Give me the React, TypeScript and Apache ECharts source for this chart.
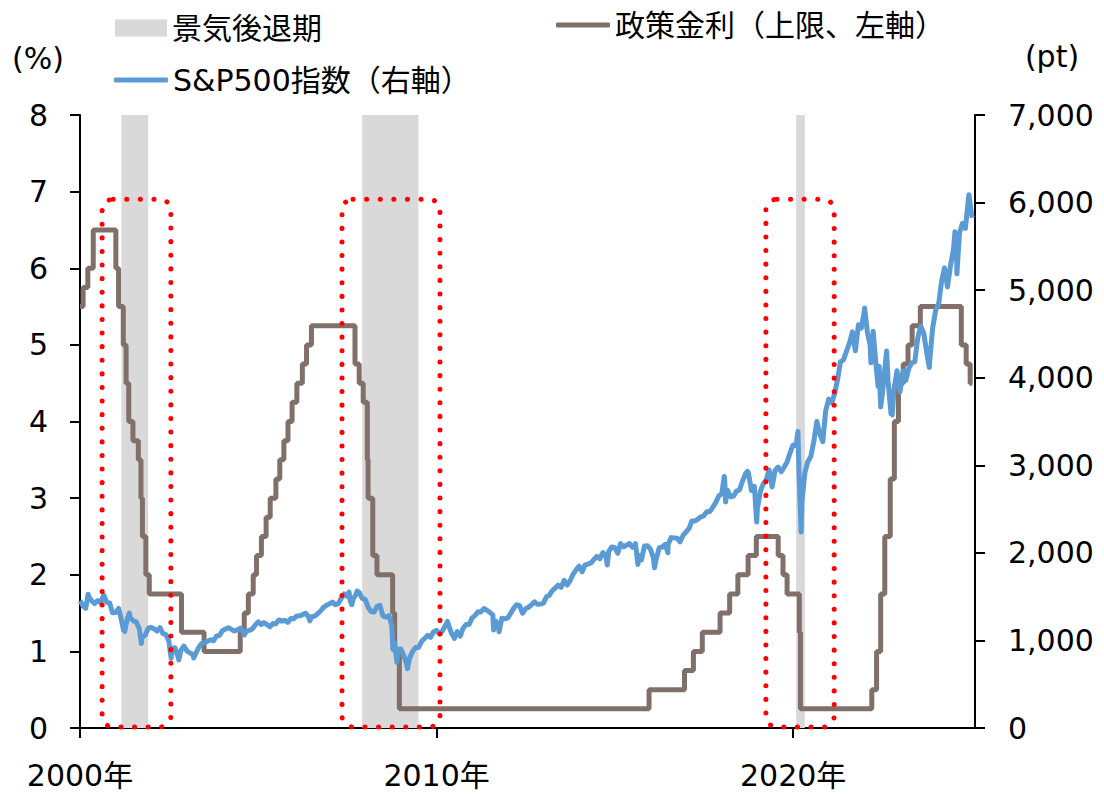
import React, { useEffect, useRef } from "react";
import * as echarts from "echarts";

const FONT = '"DejaVu Sans", "Noto Sans CJK JP", sans-serif';

// Policy rate (upper limit), change dates and new level (%)
const fedRate: [string, number][] = [
  ["2000-01-01", 5.5], ["2000-02-02", 5.75], ["2000-03-21", 6.0], ["2000-05-16", 6.5],
  ["2001-01-03", 6.0], ["2001-01-31", 5.5], ["2001-03-20", 5.0], ["2001-04-18", 4.5],
  ["2001-05-15", 4.0], ["2001-06-27", 3.75], ["2001-08-21", 3.5], ["2001-09-17", 3.0],
  ["2001-10-02", 2.5], ["2001-11-06", 2.0], ["2001-12-11", 1.75], ["2002-11-06", 1.25],
  ["2003-06-25", 1.0], ["2004-06-30", 1.25], ["2004-08-10", 1.5], ["2004-09-21", 1.75],
  ["2004-11-10", 2.0], ["2004-12-14", 2.25], ["2005-02-02", 2.5], ["2005-03-22", 2.75],
  ["2005-05-03", 3.0], ["2005-06-30", 3.25], ["2005-08-09", 3.5], ["2005-09-20", 3.75],
  ["2005-11-01", 4.0], ["2005-12-13", 4.25], ["2006-01-31", 4.5], ["2006-03-28", 4.75],
  ["2006-05-10", 5.0], ["2006-06-29", 5.25], ["2007-09-18", 4.75], ["2007-10-31", 4.5],
  ["2007-12-11", 4.25], ["2008-01-22", 3.5], ["2008-01-30", 3.0], ["2008-03-18", 2.25],
  ["2008-04-30", 2.0], ["2008-10-08", 1.5], ["2008-10-29", 1.0], ["2008-12-16", 0.25],
  ["2015-12-17", 0.5], ["2016-12-15", 0.75], ["2017-03-16", 1.0], ["2017-06-15", 1.25],
  ["2017-12-14", 1.5], ["2018-03-22", 1.75], ["2018-06-14", 2.0], ["2018-09-27", 2.25],
  ["2018-12-20", 2.5], ["2019-08-01", 2.25], ["2019-09-19", 2.0], ["2019-10-31", 1.75],
  ["2020-03-04", 1.25], ["2020-03-16", 0.25], ["2022-03-17", 0.5], ["2022-05-05", 1.0],
  ["2022-06-16", 1.75], ["2022-07-28", 2.5], ["2022-09-22", 3.25], ["2022-11-03", 4.0],
  ["2022-12-15", 4.5], ["2023-02-02", 4.75], ["2023-03-23", 5.0], ["2023-05-04", 5.25],
  ["2023-07-27", 5.5], ["2024-09-19", 5.0], ["2024-11-08", 4.75], ["2024-12-19", 4.5],
  ["2025-01-10", 4.5],
];

// S&P500 index (pt): month-end closes ("YYYY-MM") plus notable daily levels
const sp500: [string, number][] = [
  ["2000-01-03", 1455], ["2000-01", 1394], ["2000-02", 1366], ["2000-03-24", 1527], ["2000-03", 1499],
  ["2000-04", 1452], ["2000-05", 1421], ["2000-06", 1455], ["2000-07", 1431], ["2000-08", 1518],
  ["2000-09-01", 1521], ["2000-09", 1437], ["2000-10", 1429], ["2000-11", 1315], ["2000-12", 1320],
  ["2001-01", 1366], ["2001-02", 1240], ["2001-03-22", 1118], ["2001-03", 1160], ["2001-04-04", 1103],
  ["2001-04", 1249], ["2001-05-21", 1313], ["2001-05", 1256], ["2001-06", 1224], ["2001-07", 1211],
  ["2001-08", 1134], ["2001-09-21", 966], ["2001-09", 1041], ["2001-10", 1060], ["2001-11", 1139],
  ["2001-12", 1148], ["2002-01", 1130], ["2002-02", 1107], ["2002-03", 1147], ["2002-04", 1077],
  ["2002-05", 1067], ["2002-06", 990], ["2002-07-23", 797], ["2002-07", 912], ["2002-08", 916],
  ["2002-09", 815], ["2002-10-09", 777], ["2002-10", 886], ["2002-11", 936], ["2002-12", 880],
  ["2003-01", 856], ["2003-02", 841], ["2003-03-11", 800], ["2003-03", 848], ["2003-04", 917],
  ["2003-05", 964], ["2003-06", 975], ["2003-07", 990], ["2003-08", 1008], ["2003-09", 996],
  ["2003-10", 1051], ["2003-11", 1058], ["2003-12", 1112], ["2004-01", 1131], ["2004-02", 1145],
  ["2004-03", 1126], ["2004-04", 1107], ["2004-05", 1121], ["2004-06", 1141], ["2004-07", 1102],
  ["2004-08-12", 1064], ["2004-08", 1104], ["2004-09", 1115], ["2004-10", 1130], ["2004-11", 1174],
  ["2004-12", 1212], ["2005-01", 1181], ["2005-02", 1204], ["2005-03", 1181], ["2005-04", 1157],
  ["2005-05", 1192], ["2005-06", 1191], ["2005-07", 1234], ["2005-08", 1220], ["2005-09", 1229],
  ["2005-10", 1207], ["2005-11", 1249], ["2005-12", 1248], ["2006-01", 1280], ["2006-02", 1281],
  ["2006-03", 1295], ["2006-04", 1311], ["2006-05", 1270], ["2006-06-13", 1223], ["2006-06", 1270],
  ["2006-07", 1277], ["2006-08", 1304], ["2006-09", 1336], ["2006-10", 1378], ["2006-11", 1401],
  ["2006-12", 1418], ["2007-01", 1438], ["2007-02", 1407], ["2007-03", 1421], ["2007-04", 1482],
  ["2007-05", 1531], ["2007-06", 1503], ["2007-07-19", 1553], ["2007-07", 1455], ["2007-08-15", 1407],
  ["2007-08", 1474], ["2007-09", 1527], ["2007-10-09", 1565], ["2007-10", 1549], ["2007-11", 1481],
  ["2007-12", 1468], ["2008-01", 1379], ["2008-02", 1331], ["2008-03", 1323], ["2008-04", 1386],
  ["2008-05", 1400], ["2008-06", 1280], ["2008-07", 1267], ["2008-08", 1283], ["2008-09", 1166],
  ["2008-10-10", 899], ["2008-10", 969], ["2008-11-20", 752], ["2008-11", 896], ["2008-12", 903],
  ["2009-01", 826], ["2009-02", 735], ["2009-03-09", 677], ["2009-03", 798], ["2009-04", 873],
  ["2009-05", 919], ["2009-06", 919], ["2009-07", 987], ["2009-08", 1021], ["2009-09", 1057],
  ["2009-10", 1036], ["2009-11", 1096], ["2009-12", 1115], ["2010-01", 1074], ["2010-02", 1104],
  ["2010-03", 1169], ["2010-04-23", 1217], ["2010-04", 1187], ["2010-05", 1089], ["2010-06", 1031],
  ["2010-07-02", 1022], ["2010-07", 1102], ["2010-08", 1049], ["2010-09", 1141], ["2010-10", 1183],
  ["2010-11", 1181], ["2010-12", 1258], ["2011-01", 1286], ["2011-02", 1327], ["2011-03", 1326],
  ["2011-04", 1364], ["2011-05", 1345], ["2011-06", 1321], ["2011-07", 1292], ["2011-08-08", 1119],
  ["2011-08", 1219], ["2011-09", 1131], ["2011-10-03", 1099], ["2011-10", 1253], ["2011-11", 1247],
  ["2011-12", 1258], ["2012-01", 1312], ["2012-02", 1366], ["2012-03", 1408], ["2012-04", 1398],
  ["2012-05", 1310], ["2012-06", 1362], ["2012-07", 1379], ["2012-08", 1407], ["2012-09", 1441],
  ["2012-10", 1412], ["2012-11", 1416], ["2012-12", 1426], ["2013-01", 1498], ["2013-02", 1515],
  ["2013-03", 1569], ["2013-04", 1598], ["2013-05", 1631], ["2013-06", 1606], ["2013-07", 1686],
  ["2013-08", 1633], ["2013-09", 1682], ["2013-10", 1757], ["2013-11", 1806], ["2013-12", 1848],
  ["2014-01", 1783], ["2014-02", 1859], ["2014-03", 1872], ["2014-04", 1884], ["2014-05", 1924],
  ["2014-06", 1960], ["2014-07", 1931], ["2014-08", 2003], ["2014-09", 1972], ["2014-10-15", 1862],
  ["2014-10", 2018], ["2014-11", 2068], ["2014-12", 2059], ["2015-01", 1995], ["2015-02", 2105],
  ["2015-03", 2068], ["2015-04", 2086], ["2015-05", 2107], ["2015-06", 2063], ["2015-07", 2104],
  ["2015-08-25", 1868], ["2015-08", 1972], ["2015-09", 1920], ["2015-10", 2079], ["2015-11", 2080],
  ["2015-12", 2044], ["2016-01", 1940], ["2016-02-11", 1829], ["2016-02", 1932], ["2016-03", 2060],
  ["2016-04", 2065], ["2016-05", 2097], ["2016-06-27", 2001], ["2016-06", 2099], ["2016-07", 2174],
  ["2016-08", 2171], ["2016-09", 2168], ["2016-10", 2126], ["2016-11", 2199], ["2016-12", 2239],
  ["2017-01", 2279], ["2017-02", 2364], ["2017-03", 2363], ["2017-04", 2384], ["2017-05", 2412],
  ["2017-06", 2423], ["2017-07", 2470], ["2017-08", 2472], ["2017-09", 2519], ["2017-10", 2575],
  ["2017-11", 2648], ["2017-12", 2674], ["2018-01-26", 2873], ["2018-01", 2824], ["2018-02-08", 2581],
  ["2018-02", 2714], ["2018-03", 2641], ["2018-04", 2648], ["2018-05", 2705], ["2018-06", 2718],
  ["2018-07", 2816], ["2018-08", 2902], ["2018-09-20", 2931], ["2018-09", 2914], ["2018-10", 2712],
  ["2018-11", 2760], ["2018-12-24", 2351], ["2018-12", 2507], ["2019-01", 2704], ["2019-02", 2784],
  ["2019-03", 2834], ["2019-04", 2946], ["2019-05", 2752], ["2019-06", 2942], ["2019-07", 2980],
  ["2019-08", 2926], ["2019-09", 2977], ["2019-10", 3038], ["2019-11", 3141], ["2019-12", 3231],
  ["2020-01", 3226], ["2020-02-19", 3386], ["2020-02", 2954], ["2020-03-23", 2237], ["2020-03", 2585],
  ["2020-04", 2912], ["2020-05", 3044], ["2020-06", 3100], ["2020-07", 3271], ["2020-08", 3500],
  ["2020-09", 3363], ["2020-10", 3270], ["2020-11", 3622], ["2020-12", 3756], ["2021-01", 3714],
  ["2021-02", 3811], ["2021-03", 3973], ["2021-04", 4181], ["2021-05", 4204], ["2021-06", 4298],
  ["2021-07", 4395], ["2021-08", 4523], ["2021-09", 4308], ["2021-10", 4605], ["2021-11", 4567],
  ["2021-12", 4766], ["2022-01-03", 4797], ["2022-01", 4516], ["2022-02", 4374], ["2022-03-08", 4170],
  ["2022-03", 4530], ["2022-04", 4132], ["2022-05-20", 3901], ["2022-05", 4132], ["2022-06-16", 3667],
  ["2022-06", 3785], ["2022-07", 4130], ["2022-08-16", 4305], ["2022-08", 3955], ["2022-09", 3586],
  ["2022-10-12", 3577], ["2022-10", 3872], ["2022-11", 4080], ["2022-12", 3840], ["2023-01", 4077],
  ["2023-02", 3970], ["2023-03", 4109], ["2023-04", 4169], ["2023-05", 4180], ["2023-06", 4450],
  ["2023-07", 4589], ["2023-08", 4508], ["2023-09", 4288], ["2023-10-27", 4117], ["2023-10", 4194],
  ["2023-11", 4568], ["2023-12", 4770], ["2024-01", 4846], ["2024-02", 5096], ["2024-03", 5254],
  ["2024-04", 5036], ["2024-05", 5278], ["2024-06", 5460], ["2024-07-16", 5667], ["2024-07", 5522],
  ["2024-08-05", 5186], ["2024-08", 5648], ["2024-09", 5762], ["2024-10", 5705], ["2024-11", 6032],
  ["2024-12-06", 6090], ["2024-12", 5882], ["2025-01-10", 5827],
];

// Recession periods
const recessions: [string, string][] = [
  ["2001-03-01", "2001-11-30"],
  ["2007-12-01", "2009-06-30"],
  ["2020-02-01", "2020-04-30"],
];

// Highlighted periods (red dotted frames), and their top level on the left axis
const highlights: [string, string][] = [
  ["2000-08-15", "2002-07-20"],
  ["2007-05-08", "2010-02-05"],
  ["2019-03-28", "2021-02-25"],
];
const highlightTop = 6.9;

const xTickYears = [2000, 2010, 2020];
const xMin = 2000;
const xMax = 2025.1;

function toYear(s: string): number {
  const p = s.split("-").map(Number);
  const y = p[0];
  const t = p.length === 2 ? Date.UTC(y, p[1], 0) : Date.UTC(y, p[1] - 1, p[2]);
  const a = Date.UTC(y, 0, 1);
  const b = Date.UTC(y + 1, 0, 1);
  return y + (t - a) / (b - a);
}

export default function App() {
  const ref = useRef<HTMLDivElement>(null);
  useEffect(() => {
    if (!ref.current) return;
    const chart = echarts.init(ref.current, undefined, { renderer: "svg" });
    const textStyle = { fontFamily: FONT, fontSize: 30, color: "#000" };
    const axisLine = { show: true, lineStyle: { color: "#000", width: 2 } };
    const axisTick = { show: true, inside: false, length: 10, lineStyle: { color: "#000", width: 2 } };

    const baseTexts: any[] = [
      { type: "text", id: "unitL", x: 38, y: 58, style: { text: "(%)", font: `30px ${FONT}`, fill: "#000", align: "center", verticalAlign: "middle" } },
      { type: "text", id: "unitR", x: 1052, y: 56, style: { text: "(pt)", font: `30px ${FONT}`, fill: "#000", align: "center", verticalAlign: "middle" } },
    ];

    const option: any = {
      animation: false,
      textStyle: { fontFamily: FONT },
      grid: { left: 80, right: 129, top: 115, bottom: 66, containLabel: false },
      legend: [
        {
          data: [{ name: "景気後退期", icon: "rect" }],
          left: 115, top: 13, padding: 0, itemWidth: 52, itemHeight: 17,
          textStyle, selectedMode: false,
        },
        {
          data: [{ name: "政策金利（上限、左軸）", icon: "roundRect" }],
          left: 556, top: 10, padding: 0, itemWidth: 54, itemHeight: 5,
          textStyle, selectedMode: false,
        },
        {
          data: [{ name: "S&P500指数（右軸）", icon: "roundRect" }],
          left: 114, top: 65, padding: 0, itemWidth: 54, itemHeight: 5,
          textStyle, selectedMode: false,
        },
      ],
      xAxis: {
        type: "value",
        min: xMin,
        max: xMax,
        interval: 10,
        axisLine,
        axisTick: { ...axisTick, customValues: xTickYears },
        splitLine: { show: false },
        axisLabel: {
          customValues: xTickYears,
          formatter: (v: number) => `${v}年`,
          fontFamily: FONT, fontSize: 30, color: "#000", margin: 32,
        },
      },
      yAxis: [
        {
          type: "value", min: 0, max: 8, interval: 1, position: "left",
          axisLine, axisTick, splitLine: { show: false },
          axisLabel: { fontFamily: FONT, fontSize: 30, color: "#000", margin: 32 },
        },
        {
          type: "value", min: 0, max: 7000, interval: 1000, position: "right",
          axisLine, axisTick, splitLine: { show: false },
          axisLabel: {
            fontFamily: FONT, fontSize: 30, color: "#000", margin: 33,
            formatter: (v: number) => v.toLocaleString("en-US"),
          },
        },
      ],
      series: [
        {
          name: "景気後退期",
          type: "line",
          data: [],
          z: 1,
          itemStyle: { color: "#d9d9d9" },
          lineStyle: { color: "#d9d9d9" },
          markArea: {
            silent: true,
            itemStyle: { color: "#d9d9d9", opacity: 1 },
            data: recessions.map(([a, b]) => [{ xAxis: toYear(a) }, { xAxis: toYear(b) }]),
          },
        },
        {
          name: "政策金利（上限、左軸）",
          type: "line",
          step: "end",
          yAxisIndex: 0,
          showSymbol: false,
          z: 3,
          data: fedRate.map(([d, v]) => [toYear(d), v]),
          itemStyle: { color: "#807069" },
          lineStyle: { color: "#807069", width: 5 },
        },
        {
          name: "S&P500指数（右軸）",
          type: "line",
          yAxisIndex: 1,
          showSymbol: false,
          z: 4,
          data: sp500.map(([d, v]) => [toYear(d), v]),
          itemStyle: { color: "#5b9bd5" },
          lineStyle: { color: "#5b9bd5", width: 5, join: "round" },
        },
      ],
      graphic: baseTexts,
    };
    chart.setOption(option);

    const yTop = chart.convertToPixel({ yAxisIndex: 0 }, highlightTop) as number;
    const yBot = chart.convertToPixel({ yAxisIndex: 0 }, 0) as number;
    const boxes = highlights.map(([a, b], i) => {
      const x1 = chart.convertToPixel({ xAxisIndex: 0 }, toYear(a)) as number;
      const x2 = chart.convertToPixel({ xAxisIndex: 0 }, toYear(b)) as number;
      return {
        type: "rect",
        id: `box${i}`,
        z: 100,
        shape: { x: x1, y: yTop, width: x2 - x1, height: yBot - yTop - 1, r: 11 },
        style: { fill: "none", stroke: "#ff0000", lineWidth: 5, lineDash: [0.1, 13.5], lineCap: "round" },
        silent: true,
      };
    });
    chart.setOption({ graphic: [...baseTexts, ...boxes] });

    return () => chart.dispose();
  }, []);

  return (
    <div
      ref={ref}
      style={{ position: "fixed", left: 0, top: 0, width: 1104, height: 794, background: "#fff" }}
    />
  );
}
